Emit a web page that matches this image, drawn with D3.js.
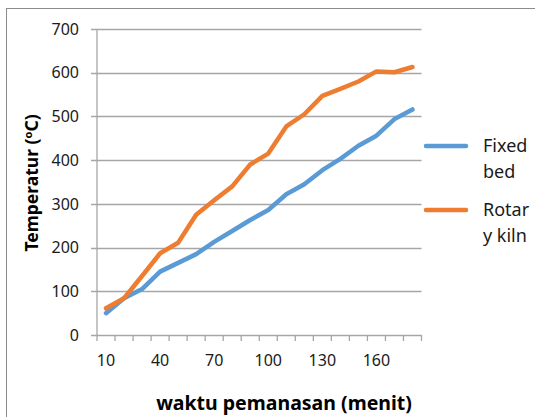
<!DOCTYPE html>
<html>
<head>
<meta charset="utf-8">
<script src="https://cdn.jsdelivr.net/npm/d3@7"></script>
<style>
  body { margin: 0; background: #fff; }
  svg { display: block; font-family: "Noto Sans", "Open Sans", sans-serif; }
</style>
</head>
<body>
<div id="chart"></div>
<script>
// Data
const minutes = [10, 20, 30, 40, 50, 60, 70, 80, 90, 100, 110, 120, 130, 140, 150, 160, 170, 180];
const fixedBed = [50, 84, 105, 145, 165, 185, 213, 238, 263, 286, 322, 345, 377, 403, 433, 456, 494, 516];
const rotaryKiln = [61, 84, 135, 187, 211, 275, 308, 340, 390, 415, 477, 505, 547, 563, 580, 603, 601, 613];
const yTicks = [0, 100, 200, 300, 400, 500, 600, 700];
const xLabels = [10, 40, 70, 100, 130, 160];

const seriesList = [
  { lines: ['Fixed', 'bed'], values: fixedBed, color: '#5b9bd5' },
  { lines: ['Rotar', 'y kiln'], values: rotaryKiln, color: '#ed7d31' }
];

const width = 535;
const height = 417;
const plot = { left: 97, right: 421.5, top: 29, bottom: 335 };

const svg = d3.select('#chart').append('svg')
  .attr('width', width)
  .attr('height', height);

// chart area border
svg.append('rect')
  .attr('x', 6.5).attr('y', 8.5)
  .attr('width', 700).attr('height', 700)
  .attr('fill', 'none')
  .attr('stroke', '#8c8c8c')
  .attr('stroke-width', 1);

const x = d3.scaleBand()
  .domain(minutes)
  .range([plot.left, plot.right]);

const y = d3.scaleLinear()
  .domain([0, 700])
  .range([plot.bottom, plot.top]);

// horizontal gridlines
svg.append('g')
  .selectAll('line')
  .data(yTicks)
  .join('line')
  .attr('x1', plot.left - 6)
  .attr('x2', plot.right)
  .attr('y1', d => Math.round(y(d)) + 0.5)
  .attr('y2', d => Math.round(y(d)) + 0.5)
  .attr('stroke', '#a6a6a6')
  .attr('stroke-width', 1.3);

// y axis line
svg.append('line')
  .attr('x1', plot.left).attr('x2', plot.left)
  .attr('y1', plot.top).attr('y2', plot.bottom)
  .attr('stroke', '#a6a6a6')
  .attr('stroke-width', 1.3);

// x tick marks at band edges
const edges = minutes.map(d => x(d)).concat([x(minutes[minutes.length - 1]) + x.bandwidth()]);
svg.append('g')
  .selectAll('line')
  .data(edges)
  .join('line')
  .attr('x1', d => d).attr('x2', d => d)
  .attr('y1', plot.bottom).attr('y2', plot.bottom + 6)
  .attr('stroke', '#a6a6a6')
  .attr('stroke-width', 1.3);

// y tick labels
svg.append('g')
  .selectAll('text')
  .data(yTicks)
  .join('text')
  .attr('x', 79)
  .attr('y', d => y(d))
  .attr('dy', '0.36em')
  .attr('text-anchor', 'end')
  .attr('font-size', 16)
  .attr('fill', '#1a1a1a')
  .text(d => d);

// x tick labels (every third category)
svg.append('g')
  .selectAll('text')
  .data(xLabels)
  .join('text')
  .attr('x', d => x(d) + x.bandwidth() / 2)
  .attr('y', 366)
  .attr('text-anchor', 'middle')
  .attr('font-size', 16)
  .attr('fill', '#1a1a1a')
  .text(d => d);

// axis titles
svg.append('text')
  .attr('x', 284)
  .attr('y', 410)
  .attr('text-anchor', 'middle')
  .attr('font-size', 19.5)
  .attr('font-weight', 'bold')
  .attr('fill', '#000')
  .text('waktu pemanasan (menit)');

const yTitle = svg.append('text')
  .attr('transform', 'translate(38,183) rotate(-90)')
  .attr('text-anchor', 'middle')
  .attr('font-size', 17.5)
  .attr('font-weight', 'bold')
  .attr('fill', '#000');
yTitle.append('tspan').text('Temperatur (');
yTitle.append('tspan').attr('font-size', 11).attr('dy', -6).text('o');
yTitle.append('tspan').attr('dy', 6).text('C)');

// series lines
const line = d3.line()
  .x((d, i) => x(minutes[i]) + x.bandwidth() / 2)
  .y(d => y(d));

svg.append('g')
  .selectAll('path')
  .data(seriesList)
  .join('path')
  .attr('d', d => line(d.values))
  .attr('fill', 'none')
  .attr('stroke', d => d.color)
  .attr('stroke-width', 4.5)
  .attr('stroke-linejoin', 'round')
  .attr('stroke-linecap', 'round');

// legend
const legend = svg.append('g')
  .selectAll('g')
  .data(seriesList)
  .join('g')
  .attr('transform', (d, i) => `translate(0,${146 + i * 64})`);

legend.append('line')
  .attr('x1', 426).attr('x2', 466)
  .attr('y1', 0).attr('y2', 0)
  .attr('stroke', d => d.color)
  .attr('stroke-width', 4.5)
  .attr('stroke-linecap', 'round');

legend.append('text')
  .attr('x', 483)
  .attr('y', 6)
  .attr('font-size', 18)
  .attr('fill', '#1a1a1a')
  .selectAll('tspan')
  .data(d => d.lines)
  .join('tspan')
  .attr('x', 483)
  .attr('dy', (d, i) => i === 0 ? 0 : 26)
  .text(d => d);
</script>
</body>
</html>
